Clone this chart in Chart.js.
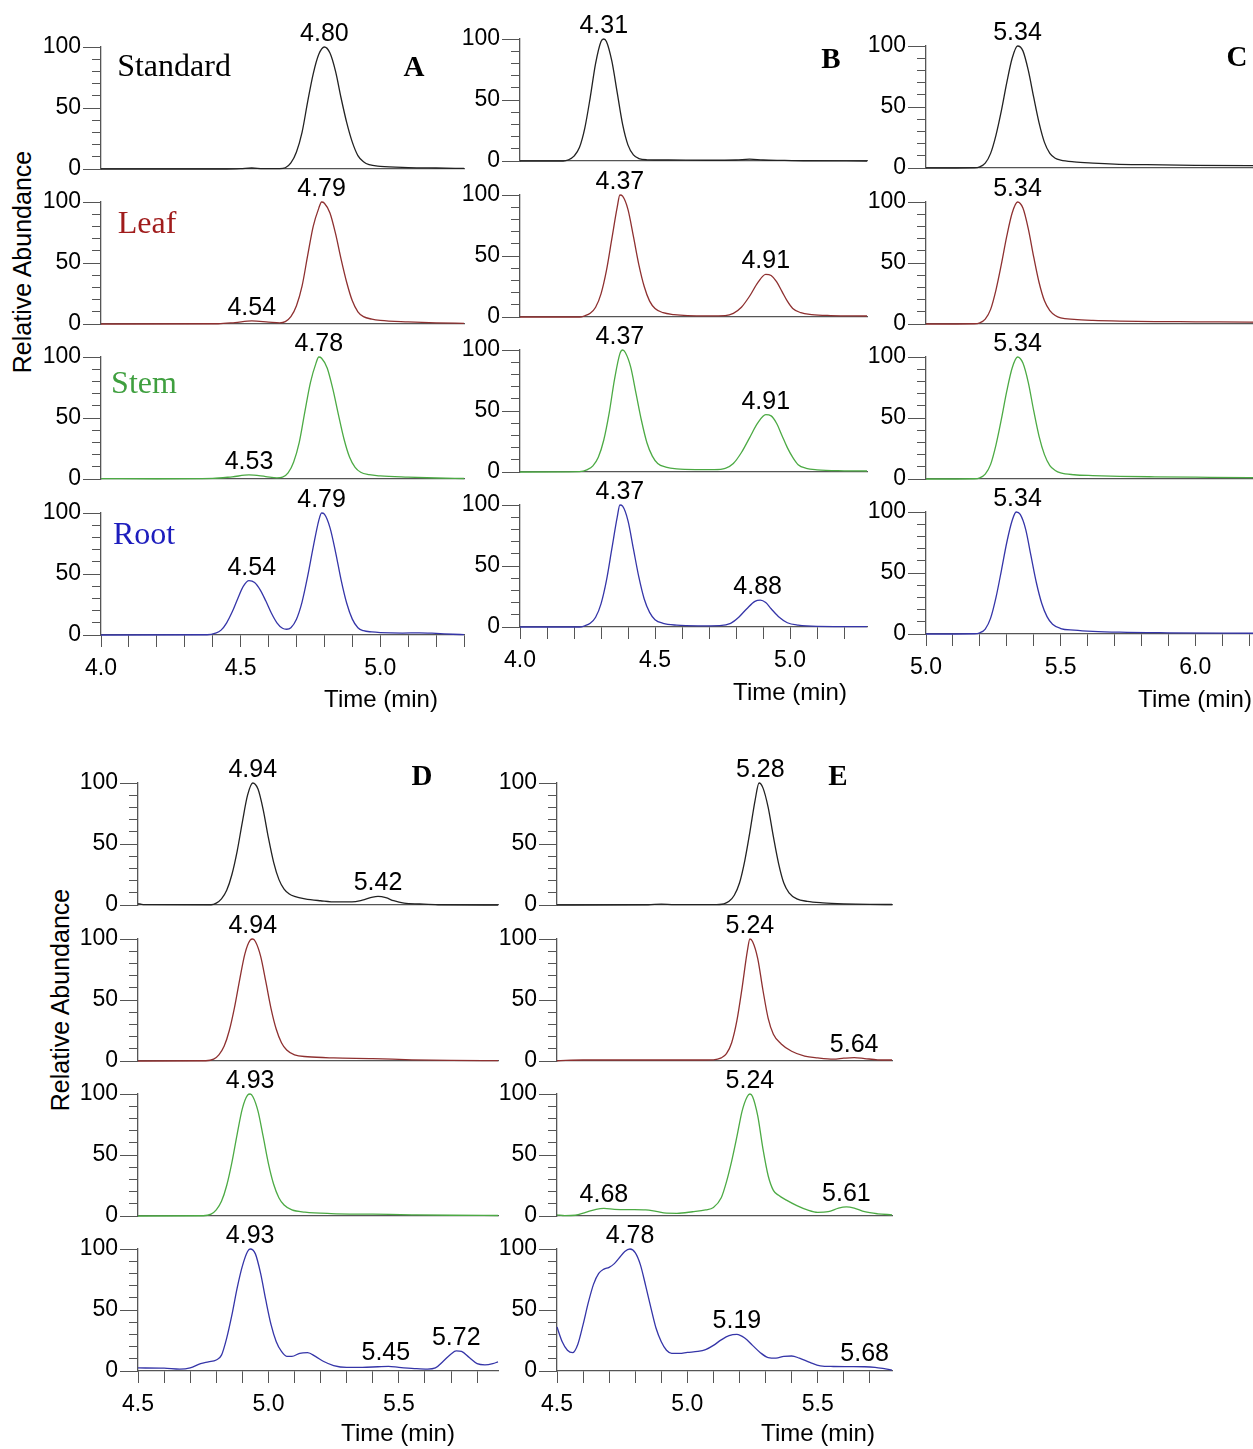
<!DOCTYPE html>
<html>
<head>
<meta charset="utf-8">
<script src="https://cdn.jsdelivr.net/npm/chart.js@4.4.1/dist/chart.umd.min.js"></script>
<style>
html, body { margin: 0; padding: 0; background: #fff; }
body { width: 1253px; height: 1449px; position: relative; overflow: hidden; font-family: "Liberation Sans", Arial, sans-serif; }
canvas { position: absolute; }
.txt { position: absolute; white-space: nowrap; line-height: 1; transform: translate(-50%, -50%); }
.name { font-family: "Liberation Serif", "Times New Roman", serif; font-size: 32px; }
.letter { font-family: "Liberation Serif", "Times New Roman", serif; font-weight: bold; font-size: 29px; color: #000; }
.xtitle { font-size: 24px; color: #000; }
.ytitle { font-size: 25px; color: #000; transform: translate(-50%, -50%) rotate(-90deg); }
</style>
</head>
<body>
<script>
// ---------- data ----------
const rowNames = ["Standard", "Leaf", "Stem", "Root"];
const panels   = ["A", "B", "C", "D", "E"];
const xMin     = [4.0, 4.0, 5.0, 4.5, 4.5];
const xMax     = [5.3, 5.285, 6.3, 5.88, 5.785];
const xTickLabels = [["4.0","4.5","5.0"], ["4.0","4.5","5.0"], ["5.0","5.5","6.0"], ["4.5","5.0","5.5"], ["4.5","5.0","5.5"]];
const yTickLabels = ["0", "50", "100"];

// panel A
const A_std  = [[4.00,0],[4.45,0],[4.50,0.3],[4.54,0.8],[4.58,0.3],[4.64,0.3],[4.66,1],[4.68,5],[4.70,14],[4.72,30],[4.74,55],[4.76,78],[4.78,94],[4.80,100],[4.82,95],[4.84,80],[4.86,58],[4.88,38],[4.90,22],[4.92,11],[4.94,6],[4.96,3.5],[5.00,2.2],[5.10,1.2],[5.20,0.8],[5.30,0.5]];
const A_leaf = [[4.00,0],[4.42,0.2],[4.48,1.2],[4.54,2.5],[4.60,1.6],[4.64,1],[4.66,2],[4.68,6],[4.70,15],[4.72,31],[4.74,56],[4.76,80],[4.78,95],[4.79,100],[4.80,99],[4.82,91],[4.84,74],[4.86,53],[4.88,34],[4.90,19],[4.92,10],[4.94,6],[4.97,4],[5.00,3],[5.10,1.8],[5.20,1],[5.30,0.5]];
const A_stem = [[4.00,0.3],[4.20,0.2],[4.40,0.5],[4.47,1.8],[4.53,3.3],[4.59,2],[4.63,1],[4.65,1.5],[4.67,5],[4.69,14],[4.71,30],[4.73,55],[4.75,79],[4.77,95],[4.78,100],[4.79,99],[4.81,91],[4.83,74],[4.85,53],[4.87,33],[4.89,18],[4.91,9.5],[4.93,5.5],[4.96,3.5],[5.00,2.5],[5.10,1.5],[5.20,0.8],[5.30,0.4]];
const A_root = [[4.00,0],[4.38,0.2],[4.41,1.5],[4.43,4],[4.45,10],[4.47,19],[4.49,30],[4.51,40],[4.53,44.5],[4.55,43],[4.57,37],[4.59,28],[4.61,18],[4.63,10],[4.65,5.5],[4.665,4.7],[4.68,6],[4.70,13],[4.72,27],[4.74,48],[4.76,72],[4.78,94],[4.79,100],[4.80,99],[4.82,88],[4.84,68],[4.86,45],[4.88,26],[4.90,13],[4.92,6],[4.94,3.5],[4.97,2.5],[5.00,2],[5.08,1.6],[5.14,1.8],[5.20,1.3],[5.26,0.6],[5.30,0.3]];

// panel B
const B_std  = [[4.00,0],[4.16,0],[4.18,1],[4.20,4],[4.22,11],[4.24,27],[4.26,52],[4.28,80],[4.30,98],[4.31,100],[4.32,98],[4.34,82],[4.36,56],[4.38,30],[4.40,13],[4.42,5],[4.44,2],[4.47,1],[4.55,0.8],[4.70,0.6],[4.80,0.8],[4.85,1.5],[4.90,0.8],[4.98,0.5],[5.05,0.2],[5.285,0]];
const B_leaf = [[4.00,0],[4.22,0],[4.24,1],[4.26,3],[4.28,8],[4.30,19],[4.32,38],[4.34,64],[4.36,90],[4.37,100],[4.38,99],[4.40,88],[4.42,66],[4.44,43],[4.46,25],[4.48,13],[4.50,7],[4.53,3.5],[4.57,2],[4.62,1.2],[4.70,1],[4.76,1.2],[4.79,3],[4.82,8],[4.85,17],[4.88,28],[4.91,35],[4.93,34],[4.95,29],[4.97,21],[4.99,13],[5.01,7],[5.04,3.5],[5.08,2],[5.15,1.2],[5.285,0.8]];
const B_stem = [[4.00,0],[4.22,0.3],[4.25,2],[4.27,5],[4.29,12],[4.31,26],[4.33,48],[4.35,76],[4.37,97],[4.38,100],[4.39,98],[4.41,86],[4.43,64],[4.45,42],[4.47,24],[4.49,13],[4.51,7],[4.54,4],[4.58,2.5],[4.65,2],[4.72,2],[4.76,3],[4.79,7],[4.82,16],[4.85,28],[4.88,40],[4.91,47],[4.93,46],[4.95,40],[4.97,30],[4.99,20],[5.01,12],[5.03,6],[5.06,3],[5.10,1.8],[5.20,1],[5.285,0.8]];
const B_root = [[4.00,0],[4.22,0],[4.24,1],[4.26,3],[4.28,8],[4.30,19],[4.32,38],[4.34,64],[4.36,90],[4.37,100],[4.38,99],[4.40,87],[4.42,64],[4.44,41],[4.46,23],[4.48,12],[4.50,6],[4.53,3],[4.58,1.5],[4.66,1],[4.74,1.2],[4.78,3],[4.81,8],[4.84,15],[4.87,21],[4.89,22],[4.91,20],[4.93,15],[4.96,8],[4.99,3.5],[5.03,1.5],[5.10,0.5],[5.285,0.3]];

// panel C
const C_std  = [[5.00,0],[5.18,0.2],[5.20,1],[5.22,4],[5.24,12],[5.26,27],[5.28,47],[5.30,70],[5.32,90],[5.34,100],[5.36,96],[5.38,80],[5.40,58],[5.42,37],[5.44,21],[5.46,12],[5.48,8],[5.50,6.5],[5.55,5],[5.62,4],[5.70,3.2],[5.82,2.7],[6.00,2.2],[6.20,2],[6.30,2]];
const C_leaf = [[5.00,0],[5.18,0.2],[5.20,1],[5.22,4],[5.24,12],[5.26,28],[5.28,49],[5.30,72],[5.32,91],[5.34,100],[5.36,95],[5.38,78],[5.40,55],[5.42,34],[5.44,19],[5.46,11],[5.48,7],[5.50,5],[5.55,3.8],[5.62,3],[5.72,2.4],[5.85,2],[6.00,1.8],[6.20,1.5],[6.30,1.4]];
const C_stem = [[5.00,0],[5.18,0.2],[5.20,1],[5.22,4],[5.24,12],[5.26,28],[5.28,49],[5.30,72],[5.32,91],[5.34,100],[5.36,95],[5.38,79],[5.40,56],[5.42,35],[5.44,20],[5.46,11],[5.48,7],[5.50,5],[5.55,3.5],[5.62,2.8],[5.72,2.2],[5.85,1.8],[6.00,1.5],[6.20,1.2],[6.30,1.2]];
const C_root = [[5.00,0],[5.18,0.2],[5.20,1],[5.22,4],[5.24,13],[5.26,30],[5.28,52],[5.30,75],[5.32,93],[5.335,100],[5.35,98],[5.37,86],[5.39,64],[5.41,42],[5.43,25],[5.45,14],[5.47,8],[5.50,4.5],[5.55,3.2],[5.62,2.2],[5.72,1.5],[5.90,1],[6.10,0.7],[6.30,0.6]];

// panel D
const D_std  = [[4.50,1.2],[4.52,0.3],[4.78,0.2],[4.80,1.5],[4.82,5],[4.84,12],[4.86,25],[4.88,44],[4.90,68],[4.92,90],[4.94,100],[4.96,95],[4.98,78],[5.00,55],[5.02,35],[5.04,21],[5.06,13],[5.08,9],[5.10,7],[5.14,5],[5.20,3.5],[5.26,2.5],[5.32,2.5],[5.36,4],[5.40,6.5],[5.42,7],[5.45,6],[5.48,3.5],[5.52,1.5],[5.58,0.8],[5.65,0.2],[5.88,0]];
const D_leaf = [[4.50,0],[4.76,0.2],[4.79,1.5],[4.81,5],[4.83,12],[4.85,25],[4.87,44],[4.89,67],[4.91,88],[4.93,99],[4.94,100],[4.95,98],[4.97,86],[4.99,65],[5.01,43],[5.03,26],[5.05,15],[5.07,9],[5.10,5],[5.15,3.5],[5.25,2.5],[5.40,2],[5.55,1],[5.70,0.5],[5.88,0.3]];
const D_stem = [[4.50,0],[4.75,0.2],[4.78,1.5],[4.80,5],[4.82,12],[4.84,25],[4.86,44],[4.88,67],[4.90,88],[4.92,99],[4.93,100],[4.94,98],[4.96,86],[4.98,65],[5.00,43],[5.02,26],[5.04,15],[5.06,9],[5.09,5],[5.14,3.2],[5.24,2],[5.40,1.5],[5.55,1],[5.70,0.6],[5.88,0.4]];
const D_root = [[4.50,2.5],[4.60,2.3],[4.66,1.5],[4.70,2.5],[4.74,6],[4.77,7.5],[4.80,9],[4.82,13],[4.84,27],[4.86,46],[4.88,68],[4.90,86],[4.92,98],[4.93,100],[4.95,96],[4.97,80],[4.99,58],[5.01,38],[5.03,24],[5.05,16],[5.07,12],[5.09,12],[5.12,14.5],[5.15,15],[5.18,12],[5.21,8],[5.25,4.5],[5.30,3],[5.36,3],[5.42,3.5],[5.46,3.8],[5.50,3],[5.56,2],[5.61,1.5],[5.64,2.5],[5.67,8],[5.70,14],[5.72,16.5],[5.74,16],[5.77,11],[5.80,6],[5.83,5],[5.86,6],[5.88,7.5]];

// panel E
const E_std  = [[4.50,0],[4.85,0.2],[4.90,0.7],[4.95,0.3],[5.10,0.3],[5.14,1],[5.16,3],[5.18,8],[5.20,18],[5.22,36],[5.24,60],[5.26,86],[5.275,100],[5.29,96],[5.31,80],[5.33,56],[5.35,34],[5.37,18],[5.39,10],[5.42,5],[5.46,3],[5.52,1.8],[5.60,1],[5.70,0.5],[5.785,0.4]];
const E_leaf = [[4.50,0.2],[4.60,0.8],[4.80,0.8],[5.00,0.8],[5.10,1],[5.13,2.5],[5.15,6],[5.17,15],[5.19,33],[5.21,60],[5.23,90],[5.24,100],[5.25,98],[5.27,84],[5.29,58],[5.31,35],[5.33,22],[5.36,14],[5.40,8],[5.45,4],[5.50,2.5],[5.56,1.5],[5.60,2.3],[5.64,2.8],[5.68,2],[5.73,1],[5.785,0.8]];
const E_stem = [[4.50,1],[4.53,0.3],[4.57,0.6],[4.61,3],[4.65,5.5],[4.68,6.2],[4.72,5.5],[4.78,5.2],[4.84,5],[4.88,3.8],[4.92,2.3],[4.96,2.2],[5.02,3.5],[5.07,5],[5.10,7],[5.13,15],[5.15,28],[5.17,45],[5.19,65],[5.21,86],[5.23,98],[5.24,100],[5.25,98],[5.27,82],[5.29,55],[5.31,33],[5.33,21],[5.35,17],[5.38,13],[5.42,8.5],[5.46,5],[5.50,3],[5.54,3.5],[5.58,6.5],[5.61,7.5],[5.64,6.5],[5.68,3.5],[5.73,1.8],[5.785,1]];
const E_root = [[4.50,36],[4.52,24],[4.54,17],[4.56,15],[4.58,22],[4.60,38],[4.62,56],[4.64,71],[4.66,80],[4.68,83.5],[4.70,85],[4.72,88],[4.74,93],[4.76,98],[4.78,100],[4.80,97],[4.82,87],[4.84,70],[4.86,52],[4.88,35],[4.90,24],[4.92,17],[4.94,14.5],[4.97,14.5],[5.00,15.3],[5.04,16],[5.07,17.5],[5.10,21],[5.13,25.5],[5.16,29],[5.19,30],[5.22,27],[5.25,21],[5.28,15],[5.31,11],[5.34,10.5],[5.37,12],[5.40,12.3],[5.43,10.5],[5.47,7],[5.51,4.2],[5.56,3.7],[5.62,3.6],[5.68,3.5],[5.72,3],[5.76,1.7],[5.785,0.8]];

// labelled peaks [time, height] per row
const A_peaks = [[[4.80,100]], [[4.54,2.5],[4.79,100]], [[4.53,3.3],[4.78,100]], [[4.54,44.5],[4.79,100]]];
const B_peaks = [[[4.31,100]], [[4.37,100],[4.91,35]], [[4.37,100],[4.91,47]], [[4.37,100],[4.88,22]]];
const C_peaks = [[[5.34,100]], [[5.34,100]], [[5.34,100]], [[5.34,100]]];
const D_peaks = [[[4.94,100],[5.42,7]], [[4.94,100]], [[4.93,100]], [[4.93,100],[5.45,3.8],[5.72,16.5]]];
const E_peaks = [[[5.28,100]], [[5.24,100],[5.64,2.8]], [[4.68,6.2],[5.24,100],[5.61,7.5]], [[4.78,100],[5.19,30],[5.68,3.5]]];

const series = { A: [A_std, A_leaf, A_stem, A_root], B: [B_std, B_leaf, B_stem, B_root], C: [C_std, C_leaf, C_stem, C_root], D: [D_std, D_leaf, D_stem, D_root], E: [E_std, E_leaf, E_stem, E_root] };
const peaks  = { A: A_peaks, B: B_peaks, C: C_peaks, D: D_peaks, E: E_peaks };

// ---------- layout / style ----------
const lineColors = ["#222222", "#8e3030", "#4caa44", "#3535a8"];
const nameColors = ["#000000", "#a01c1c", "#3f9f3f", "#1d1dbd"];
const axisColor  = "#555555";
// x pixel of the y axis, y pixel of the top row's 100 line, pixels per minute
const pos = { A: [101, 47, 279.3], B: [519.5, 39.3, 270], C: [925.7, 46.3, 269.3], D: [137.7, 783.3, 261], E: [557.3, 783.3, 261] };
const rowStep = 155.2, plotH = 122;

function peakPlugin(list) {
    return {
        id: "peakLabels",
        afterDatasetsDraw(chart) {
            const ctx = chart.ctx, x = chart.scales.x, y = chart.scales.y;
            ctx.save();
            ctx.font = '25px "Liberation Sans", Arial, sans-serif';
            ctx.fillStyle = "#000";
            ctx.textAlign = "center";
            ctx.textBaseline = "alphabetic";
            for (const p of list) {
                ctx.fillText(p[0].toFixed(2), x.getPixelForValue(p[0]), y.getPixelForValue(p[1]) - 6);
            }
            ctx.restore();
        }
    };
}

function makeChart(pi, r) {
    const p = panels[pi];
    const [ax, top0, ppm] = pos[p];
    const bottom = r === 3;
    // XH must be at least half a tick label high, or the layout pulls the plot up
    const T = 34, R = 8, YW = 59, XH = bottom ? 52 : 18;
    const W = Math.round((xMax[pi] - xMin[pi]) * ppm);

    const cv = document.createElement("canvas");
    cv.width  = YW + W + R;
    cv.height = T + plotH + XH;
    cv.style.left = Math.round(ax - YW) + "px";
    cv.style.top  = Math.round(top0 + r * rowStep - T) + "px";
    document.body.appendChild(cv);

    const labels = xTickLabels[pi];
    const xScale = bottom ? {
        type: "linear", min: xMin[pi], max: xMax[pi],
        ticks: {
            stepSize: 0.1, autoSkip: false, maxRotation: 0, includeBounds: false, padding: 8,
            color: "#000", font: { size: 23, family: '"Liberation Sans", Arial, sans-serif' },
            callback: v => { const s = v.toFixed(1); return labels.includes(s) ? s : ""; }
        },
        grid: { drawOnChartArea: false, tickLength: 12, color: axisColor, lineWidth: 1 },
        border: { color: axisColor, width: 1.3 },
        afterFit: s => { s.height = XH; }
    } : {
        type: "linear", min: xMin[pi], max: xMax[pi],
        ticks: { display: false },
        grid: { display: false },
        border: { color: axisColor, width: 1.3 },
        afterFit: s => { s.height = XH; }
    };

    new Chart(cv, {
        type: "line",
        data: {
            datasets: [{
                data: series[p][r].map(d => ({ x: d[0], y: d[1] })),
                borderColor: lineColors[r],
                borderWidth: 1.3,
                pointRadius: 0,
                fill: false,
                cubicInterpolationMode: "monotone",
                clip: 3
            }]
        },
        options: {
            responsive: false,
            animation: false,
            events: [],
            layout: { padding: { top: T, right: R, left: 0, bottom: 0 } },
            plugins: { legend: { display: false }, tooltip: { enabled: false } },
            scales: {
                x: xScale,
                y: {
                    type: "linear", position: "left", weight: 0, min: 0, max: 100,
                    ticks: { stepSize: 10, display: false },
                    grid: { drawOnChartArea: false, tickLength: 9, color: axisColor, lineWidth: 1 },
                    border: { color: axisColor, width: 1.3 },
                    afterFit: s => { s.width = 9; }
                },
                yl: {
                    type: "linear", position: "left", weight: 1, min: 0, max: 100,
                    ticks: {
                        stepSize: 50, padding: 2, color: "#000",
                        font: { size: 23, family: '"Liberation Sans", Arial, sans-serif' },
                        callback: v => yTickLabels.includes(String(v)) ? String(v) : ""
                    },
                    grid: { drawOnChartArea: false, tickLength: 9, color: axisColor, lineWidth: 1 },
                    border: { display: false },
                    afterFit: s => { s.width = YW - 9; }
                }
            }
        },
        plugins: [peakPlugin(peaks[p][r])]
    });
}

function addText(cls, text, x, y, color) {
    const d = document.createElement("div");
    d.className = "txt " + cls;
    d.textContent = text;
    d.style.left = x + "px";
    d.style.top = y + "px";
    if (color) d.style.color = color;
    document.body.appendChild(d);
}

for (let pi = 0; pi < panels.length; pi++) {
    for (let r = 0; r < 4; r++) makeChart(pi, r);
}

// sample names (panel A)
addText("name", rowNames[0], 174, 65, nameColors[0]);
addText("name", rowNames[1], 147, 222, nameColors[1]);
addText("name", rowNames[2], 144, 382, nameColors[2]);
addText("name", rowNames[3], 144, 533, nameColors[3]);

// panel letters
addText("letter", "A", 414, 66);
addText("letter", "B", 831, 58);
addText("letter", "C", 1237, 56);
addText("letter", "D", 422, 775);
addText("letter", "E", 838, 775);

// axis titles
addText("xtitle", "Time (min)", 381, 699);
addText("xtitle", "Time (min)", 790, 692);
addText("xtitle", "Time (min)", 1195, 699);
addText("xtitle", "Time (min)", 398, 1433);
addText("xtitle", "Time (min)", 818, 1433);
addText("ytitle", "Relative Abundance", 22, 262);
addText("ytitle", "Relative Abundance", 60, 1000);
</script>
</body>
</html>
